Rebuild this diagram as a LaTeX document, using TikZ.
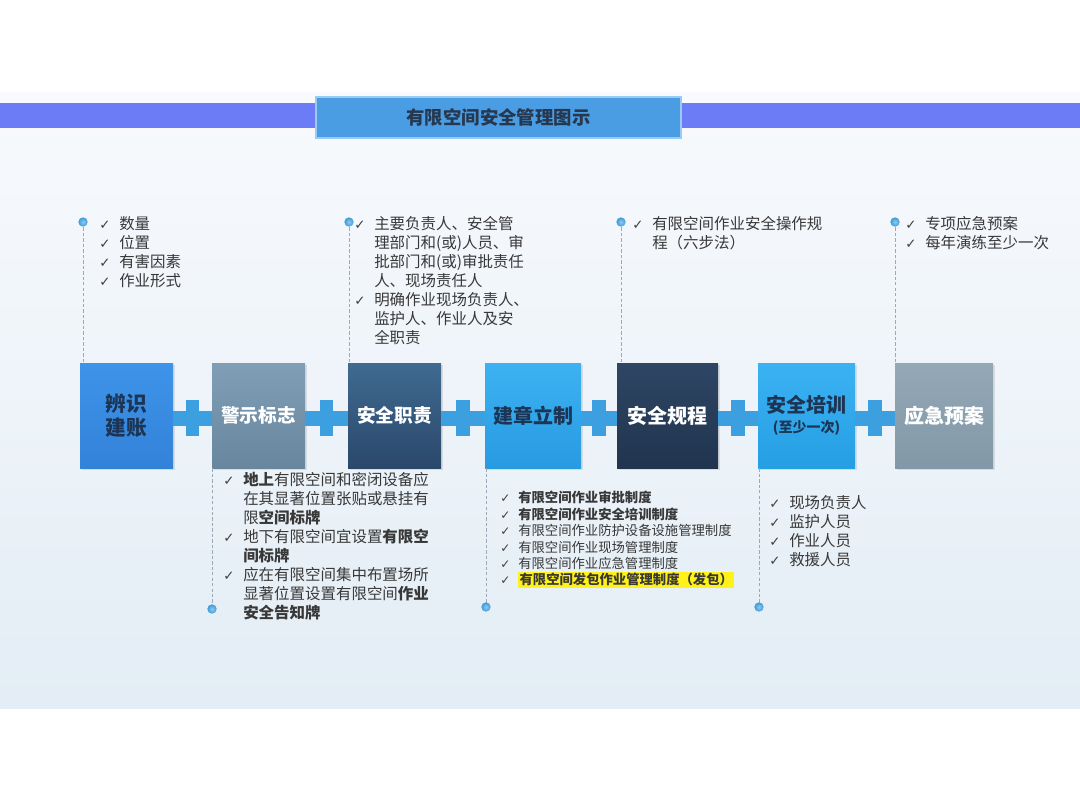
\documentclass[tikz,border=0pt]{standalone}
\usepackage{fontspec}
\setmainfont{Noto Sans CJK SC}
\newfontfamily\dv{DejaVu Sans}
\usetikzlibrary{shadows}
\definecolor{bandc}{HTML}{6B7CF6}
\definecolor{titlec}{HTML}{4A9DE2}
\definecolor{titleline}{HTML}{9ACBF2}
\definecolor{titletxt}{HTML}{263850}
\definecolor{txt}{HTML}{383838}
\definecolor{ckc}{HTML}{404040}
\definecolor{plusc}{HTML}{3C9FE0}
\definecolor{dotc}{HTML}{3A9BDB}
\definecolor{dashc}{HTML}{9AAAB8}
\definecolor{hl}{HTML}{FFF21A}
\definecolor{darktxt}{HTML}{1D3554}
\definecolor{bgtop}{HTML}{F8FAFD}
\definecolor{bgbot}{HTML}{E3EDF5}
\newcommand\ck{\makebox[15pt][l]{\textcolor{ckc}{\dv\fontsize{10pt}{10pt}\selectfont ✓}}}
\newcommand\ckb{\makebox[13.5pt][l]{\textcolor{ckc}{\dv\fontsize{9pt}{9pt}\selectfont ✓}}}
\newcommand\ind{\hspace*{15pt}}
\newcommand\indb{\hspace*{13.5pt}}
\tikzset{
  boxnode/.style={minimum height=78.75pt, inner sep=0pt, align=center,
    font=\bfseries\fontsize{14pt}{17pt}\selectfont,
    drop shadow={opacity=0.2, shadow xshift=1.2pt, shadow yshift=-1.2pt}},
  lst/.style={anchor=north west, inner sep=0pt, align=left, text=txt,
    font=\fontsize{11.6pt}{14.25pt}\selectfont},
  lstsmall/.style={anchor=north west, inner sep=0pt, align=left, text=txt,
    font=\fontsize{10pt}{12.3pt}\selectfont},
  dotnode/.style={circle, inner sep=0pt, minimum size=7pt, shading=radial,
    inner color=dotc!55!white, outer color=dotc, draw=none},
  dashline/.style={draw=dashc, line width=0.6pt, dash pattern=on 2.5pt off 1.6pt},
  plusbar/.style={draw=plusc, line width=11pt},
  vbar/.style={fill=plusc, inner sep=0pt, minimum width=10pt, minimum height=27pt}
}
\begin{document}
\begin{tikzpicture}[x=0.75pt,y=-0.75pt]
\useasboundingbox (0,0) rectangle (1080,810);
\fill[white] (0,0) rectangle (1080,810);
% background
\shade[top color=bgtop, bottom color=bgbot] (0,92) rectangle (1080,708);
% band and title
\fill[bandc] (0,103) rectangle (1080,128);
\node[fill=titlec, draw=titleline, line width=0.8pt, minimum width=273.75pt, minimum height=30.75pt,
  inner sep=0pt, text=titletxt, font=\bfseries\fontsize{13.8pt}{16pt}\selectfont] (title) at (498.5,117.5) {有限空间安全管理图示};

% boxes
\node[boxnode, minimum width=69.75pt, top color={rgb,255:red,62;green,148;blue,234}, bottom color={rgb,255:red,50;green,130;blue,216}, text=darktxt,
  font=\bfseries\fontsize{15.5pt}{18pt}\selectfont] (b1) at (126.5,415.5) {辨识\\建账};
\node[boxnode, minimum width=69.75pt, top color={rgb,255:red,128;green,158;blue,182}, bottom color={rgb,255:red,104;green,134;blue,158}, text=white] (b2) at (258.5,415.5) {警示标志};
\node[boxnode, minimum width=69.75pt, top color={rgb,255:red,64;green,106;blue,146}, bottom color={rgb,255:red,42;green,72;blue,106}, text=white] (b3) at (394.5,415.5) {安全职责};
\node[boxnode, minimum width=72pt, top color={rgb,255:red,60;green,178;blue,242}, bottom color={rgb,255:red,40;green,154;blue,226}, text=darktxt,
  font=\bfseries\fontsize{15pt}{18pt}\selectfont] (b4) at (533,415.5) {建章立制};
\node[boxnode, minimum width=75.75pt, top color={rgb,255:red,46;green,70;blue,100}, bottom color={rgb,255:red,32;green,52;blue,78}, text=white,
  font=\bfseries\fontsize{15pt}{18pt}\selectfont] (b5) at (667.5,415.5) {安全规程};
\node[boxnode, minimum width=72.75pt, top color={rgb,255:red,58;green,178;blue,242}, bottom color={rgb,255:red,38;green,158;blue,228}, text=darktxt,
  font=\bfseries\fontsize{15pt}{16pt}\selectfont] (b6) at (806.5,415.5) {安全培训\\[-1pt]{\fontsize{10.5pt}{12pt}\selectfont (至少一次)}};
\node[boxnode, minimum width=73.5pt, top color={rgb,255:red,148;green,168;blue,182}, bottom color={rgb,255:red,130;green,152;blue,168}, text=white,
  font=\bfseries\fontsize{15pt}{18pt}\selectfont] (b7) at (944,415.5) {应急预案};

% plus connectors
\draw[plusbar] ([yshift=-2pt]b1.east) -- ([yshift=-2pt]b2.west) node[midway, vbar] (p1) {};
\draw[plusbar] ([yshift=-2pt]b2.east) -- ([yshift=-2pt]b3.west) node[midway, vbar] (p2) {};
\draw[plusbar] ([yshift=-2pt]b3.east) -- ([yshift=-2pt]b4.west) node[midway, vbar] (p3) {};
\draw[plusbar] ([yshift=-2pt]b4.east) -- ([yshift=-2pt]b5.west) node[midway, vbar] (p4) {};
\draw[plusbar] ([yshift=-2pt]b5.east) -- ([yshift=-2pt]b6.west) node[midway, vbar] (p5) {};
\draw[plusbar] ([yshift=-2pt]b6.east) -- ([yshift=-2pt]b7.west) node[midway, vbar] (p6) {};

% dots and dashed leaders
\coordinate (d1) at (83,222);
\coordinate (d3) at (349,222);
\coordinate (d5) at (621,222);
\coordinate (d7) at (895,222);
\coordinate (d2) at (212,609);
\coordinate (d4) at (486,607);
\coordinate (d6) at (759,607);
\draw[dashline] (d1) -- (d1 |- b1.north);
\draw[dashline] (d3) -- (d3 |- b3.north);
\draw[dashline] (d5) -- (d5 |- b5.north);
\draw[dashline] (d7) -- (d7 |- b7.north);
\draw[dashline] (d2 |- b2.south) -- (d2);
\draw[dashline] (d4 |- b4.south) -- (d4);
\draw[dashline] (d6 |- b6.south) -- (d6);
\node[dotnode] (n1) at (d1) {};
\node[dotnode] (n3) at (d3) {};
\node[dotnode] (n5) at (d5) {};
\node[dotnode] (n7) at (d7) {};
\node[dotnode] (n2) at (d2) {};
\node[dotnode] (n4) at (d4) {};
\node[dotnode] (n6) at (d6) {};

% top lists
\node[lst] (t1) at (99,216) {\ck 数量\\\ck 位置\\\ck 有害因素\\\ck 作业形式};
\node[lst] (t3) at (354,216) {\ck 主要负责人、安全管\\\ind 理部门和(或)人员、审\\\ind 批部门和(或)审批责任\\\ind 人、现场责任人\\\ck 明确作业现场负责人、\\\ind 监护人、作业人及安\\\ind 全职责};
\node[lst] (t5) at (632,216) {\ck 有限空间作业安全操作规\\\ind 程（六步法）};
\node[lst] (t7) at (905,216) {\ck 专项应急预案\\\ck 每年演练至少一次};

% bottom lists
\node[lst] (u2) at (223,472) {\ck \textbf{地上}有限空间和密闭设备应\\\ind 在其显著位置张贴或悬挂有\\\ind 限\textbf{空间标牌}\\\ck 地下有限空间宜设置\textbf{有限空}\\\ind \textbf{间标牌}\\\ck 应在有限空间集中布置场所\\\ind 显著位置设置有限空间\textbf{作业}\\\ind \textbf{安全告知牌}};
\node[lstsmall] (u4) at (500,491) {\ckb \textbf{有限空间作业审批制度}\\\ckb \textbf{有限空间作业安全培训制度}\\\ckb 有限空间作业防护设备设施管理制度\\\ckb 有限空间作业现场管理制度\\\ckb 有限空间作业应急管理制度\\\ckb {\setlength{\fboxsep}{1pt}\colorbox{hl}{\textbf{有限空间发包作业管理制度（发包）}}}};
\node[lst] (u6) at (769,495) {\ck 现场负责人\\\ck 监护人员\\\ck 作业人员\\\ck 救援人员};
\end{tikzpicture}
\end{document}
